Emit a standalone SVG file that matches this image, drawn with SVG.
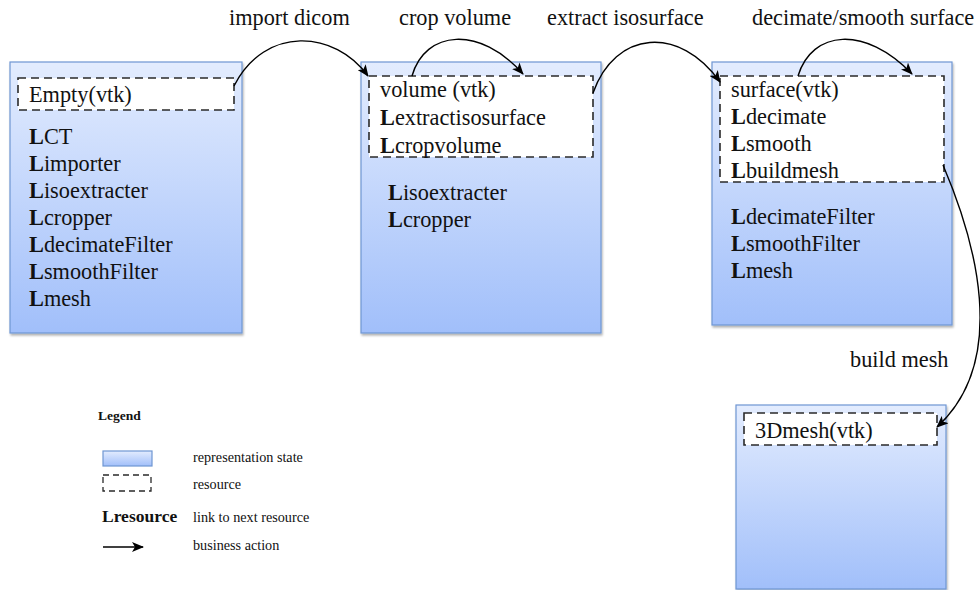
<svg xmlns="http://www.w3.org/2000/svg" width="980" height="590" viewBox="0 0 980 590" font-family="Liberation Serif, Times New Roman, serif">
  <style>
    text { font-family: 'Liberation Serif', 'Times New Roman', Times, serif; fill: #111; }
    .t { font-size: 22.3px; }
    .lg { font-size: 14.2px; }
    .b { font-weight: bold; }
    .state { fill: url(#stateFill); stroke: #6f97d3; stroke-width: 1.2; filter: url(#shadow); }
    .res { fill: #fff; stroke: #2a2a2a; stroke-width: 1.6; stroke-dasharray: 8 5; }
    .act { fill: none; stroke: #000; stroke-width: 1.4; marker-end: url(#arrow); }
  </style>
  <defs>
    <linearGradient id="stateFill" x1="0" y1="0" x2="0" y2="1">
      <stop offset="0" stop-color="#e3ecfe"/>
      <stop offset="1" stop-color="#a1bffa"/>
    </linearGradient>
    <filter id="shadow" x="-5%" y="-5%" width="115%" height="115%">
      <feDropShadow dx="1" dy="2" stdDeviation="1.2" flood-color="#000" flood-opacity="0.3"/>
    </filter>
    <marker id="arrow" viewBox="0 0 12 10" refX="11" refY="5" markerWidth="12" markerHeight="10" markerUnits="userSpaceOnUse" orient="auto">
      <path d="M0,0 L12,5 L0,10 L3,5 z" fill="#000"/>
    </marker>
  </defs>

  <!-- initial state -->
  <g id="state-empty">
    <rect class="state" x="10" y="62" width="232" height="271"/>
    <rect class="res" x="18" y="78" width="216" height="32"/>
    <text class="t" x="29" y="102">Empty(vtk)</text>
    <text class="t" x="29" y="144"><tspan class="b">L</tspan>CT</text>
    <text class="t" x="29" y="171"><tspan class="b">L</tspan>importer</text>
    <text class="t" x="29" y="198"><tspan class="b">L</tspan>isoextracter</text>
    <text class="t" x="29" y="225"><tspan class="b">L</tspan>cropper</text>
    <text class="t" x="29" y="252"><tspan class="b">L</tspan>decimateFilter</text>
    <text class="t" x="29" y="279"><tspan class="b">L</tspan>smoothFilter</text>
    <text class="t" x="29" y="306"><tspan class="b">L</tspan>mesh</text>
  </g>

  <!-- volume state -->
  <g id="state-volume">
    <rect class="state" x="361" y="62" width="240" height="271"/>
    <rect class="res" x="369" y="76" width="224" height="81"/>
    <text class="t" x="380" y="97">volume (vtk)</text>
    <text class="t" x="380" y="125"><tspan class="b">L</tspan>extractisosurface</text>
    <text class="t" x="380" y="153"><tspan class="b">L</tspan>cropvolume</text>
    <text class="t" x="388" y="200"><tspan class="b">L</tspan>isoextracter</text>
    <text class="t" x="388" y="227"><tspan class="b">L</tspan>cropper</text>
  </g>

  <!-- surface state -->
  <g id="state-surface">
    <rect class="state" x="712" y="62" width="240" height="263"/>
    <rect class="res" x="720" y="76" width="224" height="106"/>
    <text class="t" x="731" y="97">surface(vtk)</text>
    <text class="t" x="731" y="124"><tspan class="b">L</tspan>decimate</text>
    <text class="t" x="731" y="151"><tspan class="b">L</tspan>smooth</text>
    <text class="t" x="731" y="178"><tspan class="b">L</tspan>buildmesh</text>
    <text class="t" x="731" y="224"><tspan class="b">L</tspan>decimateFilter</text>
    <text class="t" x="731" y="251"><tspan class="b">L</tspan>smoothFilter</text>
    <text class="t" x="731" y="278"><tspan class="b">L</tspan>mesh</text>
  </g>

  <!-- mesh state -->
  <g id="state-mesh">
    <rect class="state" x="736" y="405" width="210" height="184"/>
    <rect class="res" x="744" y="413" width="193" height="32"/>
    <text class="t" x="755" y="438">3Dmesh(vtk)</text>
  </g>

  <!-- business actions -->
  <g id="connectors">
    <path class="act" d="M234,86 C265,25 335,30 368,76"/>
    <path class="act" d="M412,76 C425,30 480,25 523,74"/>
    <path class="act" d="M593,93 C615,30 680,25 720,82"/>
    <path class="act" d="M798,76 C812,30 865,25 912,74"/>
    <path class="act" d="M943,165 C975,240 1010,360 937,427"/>
  </g>

  <g id="action-labels">
    <text class="t" x="229" y="25">import dicom</text>
    <text class="t" x="399" y="25">crop volume</text>
    <text class="t" x="547" y="25">extract isosurface</text>
    <text class="t" x="752" y="25">decimate/smooth surface</text>
    <text class="t" x="850" y="367">build mesh</text>
  </g>

  <!-- legend -->
  <g id="legend">
    <text class="b" x="98" y="420" style="font-size:13.5px">Legend</text>
    <rect class="state" x="103" y="451" width="49" height="15" style="filter:none"/>
    <text class="lg" x="193" y="462">representation state</text>
    <rect class="res" x="103" y="475" width="48" height="16" style="stroke-dasharray:6 4;stroke-width:1.3"/>
    <text class="lg" x="193" y="489">resource</text>
    <text class="b" x="102" y="522" style="font-size:17.5px">Lresource</text>
    <text class="lg" x="193" y="522">link to next resource</text>
    <path class="act" d="M103,547 L143,547"/>
    <text class="lg" x="193" y="550">business action</text>
  </g>
</svg>
